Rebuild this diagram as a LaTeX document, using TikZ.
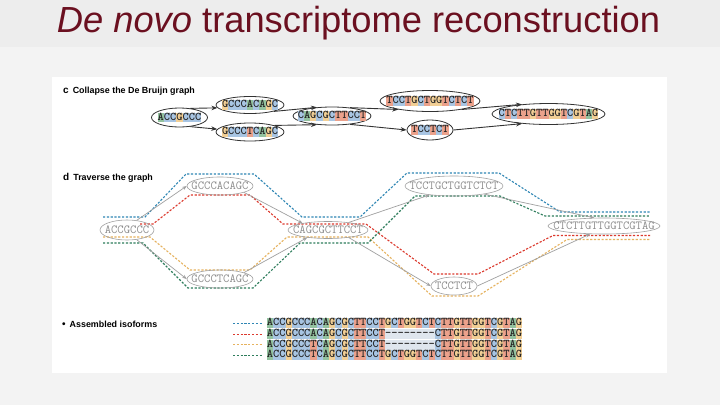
\documentclass[tikz,border=0pt]{standalone}
\usepackage{fontspec}
\setmainfont{Liberation Sans}
\usetikzlibrary{shapes.geometric,arrows.meta}
\definecolor{titlebg}{HTML}{EDEDED}
\definecolor{bodybg}{HTML}{F3F3F3}
\definecolor{titlered}{HTML}{6B1020}
\definecolor{nucA}{HTML}{93C29F}
\definecolor{nucC}{HTML}{A8C5E3}
\definecolor{nucG}{HTML}{F2CF95}
\definecolor{nucT}{HTML}{EBA18B}
\definecolor{gapbg}{HTML}{DFE6EE}
\definecolor{dnatext}{HTML}{262626}
\definecolor{cedge}{HTML}{333333}
\definecolor{dgray}{HTML}{A0A0A0}
\definecolor{dtext}{HTML}{8C8C8C}
\definecolor{pblue}{HTML}{2F86B4}
\definecolor{pred}{HTML}{DC3A2E}
\definecolor{pyellow}{HTML}{E6B25E}
\definecolor{pgreen}{HTML}{2E7D5C}
\def\dnastrut{\rule[-2.3pt]{0pt}{9.8pt}}
\def\dnachar#1{{\fboxsep=0pt\if#1-\colorbox{gapbg}{\dnastrut-}\else\colorbox{nuc#1}{\dnastrut#1}\fi}}
\def\dnaloop#1{\ifx\relax#1\else\dnachar{#1}\expandafter\dnaloop\fi}
\newcommand\dnaseq[1]{\dnaloop#1\relax}
\begin{document}
\begin{tikzpicture}[x=1pt,y=-1pt,
  cnode/.style={ellipse, draw=cedge, line width=0.8pt, fill=white, inner sep=0pt,
    font=\ttfamily\bfseries\fontsize{11.85}{12}\selectfont, text=dnatext},
  dnode/.style={ellipse, draw=dgray, line width=0.6pt, inner sep=0pt,
    font=\ttfamily\fontsize{12.3}{12}\selectfont, text=dtext},
  cedgeS/.style={draw=cedge, line width=0.9pt, -{Stealth[length=6pt,width=4.5pt]}},
  dedgeS/.style={draw=dgray, line width=0.7pt, -{Stealth[length=4.5pt,width=3.5pt]}},
  pathS/.style={line width=1.1pt, dash pattern=on 2.2pt off 1.6pt},
  lab/.style={font=\bfseries\fontsize{8.9}{10}\selectfont, text=black, inner sep=0pt},
  iso/.style={anchor=west, inner sep=0pt, font=\ttfamily\bfseries\fontsize{11.85}{12}\selectfont, text=dnatext}
]
\useasboundingbox (0,0) rectangle (720,405);
\fill[bodybg] (0,0) rectangle (720,405);
\fill[titlebg] (0,0) rectangle (720,47);
\fill[white] (52,77) rectangle (667,373);

% title
\node[text=titlered, inner sep=0pt, font=\fontsize{36.3}{40}\selectfont] (title) at (358.5,23)
  {\textit{De novo} transcriptome reconstruction};

% panel labels
\node[lab, anchor=base west] (labc) at (63,93) {{\fontsize{10}{10}\selectfont c}\hspace{4pt}Collapse the De Bruijn graph};
\node[lab, anchor=base west] (labd) at (63,180) {{\fontsize{10}{10}\selectfont d}\hspace{4pt}Traverse the graph};
\node[lab, anchor=base west] (labe) at (62,327) {{\fontsize{10}{10}\selectfont\textbullet}\hspace{4pt}Assembled isoforms};

% ---------- panel c ----------
\node[cnode, minimum width=56pt, minimum height=19pt] (cA) at (179.5,117.5) {\makebox[0pt]{\dnaseq{ACCGCCC}}};
\node[cnode, minimum width=68pt, minimum height=17pt] (cB) at (250,105) {\makebox[0pt]{\dnaseq{GCCCACAGC}}};
\node[cnode, minimum width=68pt, minimum height=18pt] (cC) at (250,132) {\makebox[0pt]{\dnaseq{GCCCTCAGC}}};
\node[cnode, minimum width=78pt, minimum height=18pt] (cD) at (332,116) {\makebox[0pt]{\dnaseq{CAGCGCTTCCT}}};
\node[cnode, minimum width=100pt, minimum height=21pt] (cE) at (430,101) {\makebox[0pt]{\dnaseq{TCCTGCTGGTCTCT}}};
\node[cnode, minimum width=46pt, minimum height=20pt] (cF) at (430,130) {\makebox[0pt]{\dnaseq{TCCTCT}}};
\node[cnode, minimum width=113pt, minimum height=21pt] (cG) at (548.5,114) {\makebox[0pt]{\dnaseq{CTCTTGTTGGTCGTAG}}};
\draw[cedgeS] (cA.40) -- (cB.185);
\draw[cedgeS] (cA.-40) -- (cC.175);
\draw[cedgeS] (cB.-15) -- (cD.150);
\draw[cedgeS] (cC.15) -- (cD.210);
\draw[cedgeS] (cD.25) -- (cE.195);
\draw[cedgeS] (cD.-25) -- (cF.180);
\draw[cedgeS] (cE.-15) -- (cG.160);
\draw[cedgeS] (cF.0) -- (cG.200);

% ---------- panel d ----------
\draw[pathS, pblue] (103,217) -- (145,217) -- (186,174) -- (254,174) -- (302,217) -- (360,217) -- (407,173) -- (499,173) -- (560,212) -- (650,212);
\draw[pathS, pred] (140,224) -- (153,224) -- (190,195) -- (250,195) -- (283,224) -- (366,224) -- (434,274) -- (478,274) -- (553,235.5) -- (650,235.5);
\draw[pathS, pyellow] (103,237) -- (150,237) -- (190,270) -- (250,270) -- (287,237) -- (368,237) -- (432,296) -- (478,296) -- (567,239.5) -- (650,239.5);
\draw[pathS, pgreen] (103,243) -- (143,243) -- (188,288) -- (253,288) -- (300,243) -- (368,243) -- (415,196) -- (500,196) -- (545,216) -- (650,216);

\node[dnode, minimum width=54pt, minimum height=20pt] (dA) at (127,230) {\makebox[0pt]{ACCGCCC}};
\node[dnode, minimum width=66pt, minimum height=18pt] (dB) at (220,186) {\makebox[0pt]{GCCCACAGC}};
\node[dnode, minimum width=66pt, minimum height=18pt] (dC) at (220,279) {\makebox[0pt]{GCCCTCAGC}};
\node[dnode, minimum width=80pt, minimum height=17pt] (dD) at (328,230) {\makebox[0pt]{CAGCGCTTCCT}};
\node[dnode, minimum width=98pt, minimum height=20pt] (dE) at (454,186) {\makebox[0pt]{TCCTGCTGGTCTCT}};
\node[dnode, minimum width=46pt, minimum height=18pt] (dF) at (454,286) {\makebox[0pt]{TCCTCT}};
\node[dnode, minimum width=112pt, minimum height=16pt] (dG) at (604,226) {\makebox[0pt]{CTCTTGTTGGTCGTAG}};
\draw[dedgeS] (dA.45) -- (dB.180);
\draw[dedgeS] (dA.-45) -- (dC.180);
\draw[dedgeS] (dB.-15) -- (dD.165);
\draw[dedgeS] (dC.15) -- (dD.200);
\draw[dedgeS] (dD.20) -- (dE.200);
\draw[dedgeS] (dD.-20) -- (dF.180);
\draw[dedgeS] (dE.-15) -- (dG.140);
\draw[dedgeS] (dF.0) -- (dG.210);

% ---------- assembled isoforms ----------
\node[iso] (i1) at (266.7,323.3) {\dnaseq{ACCGCCCACAGCGCTTCCTGCTGGTCTCTTGTTGGTCGTAG}};
\node[iso] (i2) at (266.7,334.0) {\dnaseq{ACCGCCCACAGCGCTTCCT--------CTTGTTGGTCGTAG}};
\node[iso] (i3) at (266.7,344.6) {\dnaseq{ACCGCCCTCAGCGCTTCCT--------CTTGTTGGTCGTAG}};
\node[iso] (i4) at (266.7,355.2) {\dnaseq{ACCGCCCTCAGCGCTTCCTGCTGGTCTCTTGTTGGTCGTAG}};
\coordinate (l1) at (233,323.3); \coordinate (l2) at (233,334.0);
\coordinate (l3) at (233,344.6); \coordinate (l4) at (233,355.2);
\draw[pathS, line width=0.9pt, pblue, shorten >=4pt] (l1) -- (i1.west);
\draw[pathS, line width=0.9pt, pred, shorten >=4pt] (l2) -- (i2.west);
\draw[pathS, line width=0.9pt, pyellow, shorten >=4pt] (l3) -- (i3.west);
\draw[pathS, line width=0.9pt, pgreen, shorten >=4pt] (l4) -- (i4.west);
\end{tikzpicture}
\end{document}
